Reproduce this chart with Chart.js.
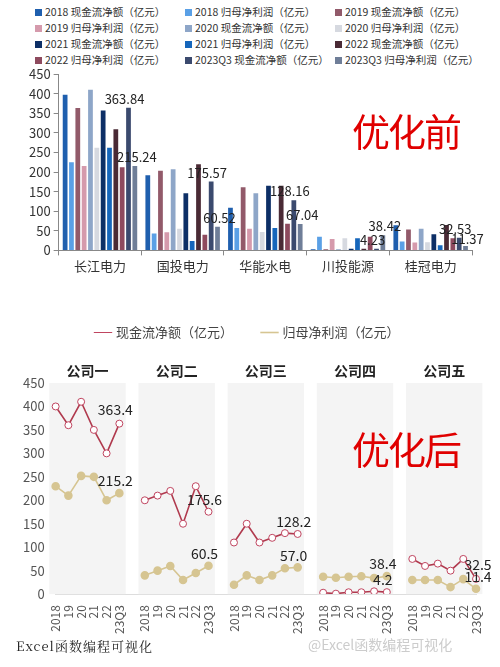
<!DOCTYPE html>
<html><head><meta charset="utf-8">
<script src="https://cdn.jsdelivr.net/npm/chart.js@4"></script>
<style>
body{margin:0;background:#fff;font-family:"Noto Sans CJK SC","Noto Sans",sans-serif;width:500px;height:667px;position:relative;overflow:hidden}
#leg{position:absolute;left:35px;top:4px;width:465px;display:grid;grid-template-columns:150px 150px 150px;row-gap:1px;font-size:10.5px;color:#333}
#leg span i{display:inline-block;width:7px;height:7px;margin-right:3px}
#c1w{position:absolute;left:0;top:62px;width:500px;height:215px}
#c2w{position:absolute;left:0;top:292px;width:500px;height:345px}
.red{position:absolute;color:#e00000;font-size:38px;letter-spacing:-2px}
#foot{position:absolute;left:16px;top:636px;font-size:13px;color:#222;font-family:"Noto Serif CJK SC","Noto Sans CJK SC";letter-spacing:1px}
#wm{position:absolute;left:308px;top:634px;font-size:14px;color:#ccc}
</style></head><body>
<div id="leg"></div>
<div id="c1w"><canvas id="c1"></canvas></div>
<div id="c2w"><canvas id="c2"></canvas></div>
<div class="red" style="left:352px;top:102px">优化前</div>
<div class="red" style="left:352px;top:420px">优化后</div>
<div id="foot">Excel函数编程可视化</div>
<div id="wm">@Excel函数编程可视化</div>
<script>
const companies=['长江电力','国投电力','华能水电','川投能源','桂冠电力'];
const seriesNames=['2018 现金流净额（亿元）','2018 归母净利润（亿元）','2019 现金流净额（亿元）','2019 归母净利润（亿元）','2020 现金流净额（亿元）','2020 归母净利润（亿元）','2021 现金流净额（亿元）','2021 归母净利润（亿元）','2022 现金流净额（亿元）','2022 归母净利润（亿元）','2023Q3 现金流净额（亿元）','2023Q3 归母净利润（亿元）'];
const colors=['#1f5fae','#5aa0e6','#925a6a','#d59aac','#8ea6c8','#d6d9e0','#0d2f66','#1666bb','#4a2a35','#8e4a5e','#3b4a6e','#6f7e98'];
const s2018cash=[397,192,109,3,64], s2018prof=[225,43,57,35,23];
const s2019cash=[363,203,161,3,53], s2019prof=[215,46,55,29,20];
const s2020cash=[410,207,146,3,55], s2020prof=[262,55,47,31,21];
const s2021cash=[357,146,165,4,41], s2021prof=[262,24,57,31,13];
const s2022cash=[309,220,165,4,65], s2022prof=[212,40,68,35,31];
const s2023cash=[363.84,175.57,128.16,4.23,32.53], s2023prof=[215.24,60.52,67.04,38.42,11.37];
const barSeries=[s2018cash,s2018prof,s2019cash,s2019prof,s2020cash,s2020prof,s2021cash,s2021prof,s2022cash,s2022prof,s2023cash,s2023prof];

const groupNames=['公司一','公司二','公司三','公司四','公司五'];
const yearLabels=['2018','19','20','21','22','23Q3'];
const cash1=[400,360,410,350,300,363.4], prof1=[230,210,252,250,200,215.2];
const cash2=[200,210,220,150,230,175.6], prof2=[40,50,60,30,45,60.5];
const cash3=[110,150,110,120,130,128.2], prof3=[20,40,30,40,55,57.0];
const cash4=[3,1,4,4,6,4.2], prof4=[37,35,37,38,34,38.4];
const cash5=[75,60,65,50,75,32.5], prof5=[30,30,30,15,32,11.4];
const cashG=[cash1,cash2,cash3,cash4,cash5], profG=[prof1,prof2,prof3,prof4,prof5];

const F='"Noto Sans CJK SC","Noto Sans",sans-serif';
document.getElementById('leg').innerHTML=seriesNames.map((n,i)=>`<span><i style="background:${colors[i]}"></i>${n}</span>`).join('');

const barLabels={id:'bl',afterDatasetsDraw(ch){const c=ch.ctx;c.save();c.font='13px '+F;c.fillStyle='#222';c.textAlign='center';
 [10,11].forEach(di=>{ch.getDatasetMeta(di).data.forEach((b,i)=>{const v=barSeries[di][i];let dx=di==10?-4:2,dy=-4;
  if(i==4&&di==11){dy=-2;}
  c.fillText(v.toFixed(2),b.x+dx,b.y+dy);});});c.restore();}};
new Chart(document.getElementById('c1'),{type:'bar',
 data:{labels:companies,datasets:barSeries.map((d,i)=>({label:seriesNames[i],data:d,backgroundColor:colors[i],categoryPercentage:0.92,barPercentage:0.75}))},
 options:{responsive:true,maintainAspectRatio:false,animation:false,layout:{padding:{left:26,right:28,top:12}},
  plugins:{legend:{display:false},tooltip:{enabled:false}},
  scales:{y:{min:0,max:450,ticks:{stepSize:50,color:'#333',font:{size:13,family:F}},grid:{drawOnChartArea:false,tickLength:5,color:'#888'},border:{color:'#888'}},
   x:{ticks:{color:'#333',font:{size:13,family:F}},grid:{offset:true,drawOnChartArea:false,tickLength:5,color:'#888'},border:{color:'#888'}}}},
 plugins:[barLabels]});

const labels2=[],cashData=[],profData=[];
groupNames.forEach((g,gi)=>{yearLabels.forEach((y,k)=>{labels2.push(y);cashData.push(cashG[gi][k]);profData.push(profG[gi][k]);});
 if(gi<4){labels2.push('');cashData.push(null);profData.push(null);}});
const bands={id:'bands',
 beforeInit(ch){const fit=ch.legend.fit;ch.legend.fit=function(){fit.bind(ch.legend)();this.height+=34;};},
 beforeDatasetsDraw(ch){const c=ch.ctx,x=ch.scales.x,a=ch.chartArea;const w=x.getPixelForValue(1)-x.getPixelForValue(0);
 c.save();groupNames.forEach((g,gi)=>{const l=x.getPixelForValue(gi*7)-w/2,r=x.getPixelForValue(gi*7+5)+w/2;
  c.fillStyle='#f4f4f4';c.fillRect(l,a.top,r-l,a.bottom-a.top);
  c.fillStyle='#222';c.font='bold 14px '+F;c.textAlign='center';c.fillText(g,(l+r)/2,a.top-12);});c.restore();},
 afterDatasetsDraw(ch){const c=ch.ctx,x=ch.scales.x,y=ch.scales.y;c.save();c.font='14px '+F;c.fillStyle='#222';c.textAlign='center';
  groupNames.forEach((g,gi)=>{const px=x.getPixelForValue(gi*7+5);
   const cv=cashG[gi][5],pv=profG[gi][5];
   const cy=y.getPixelForValue(cv),py=y.getPixelForValue(pv);
   const dx=gi==4?2:-4;
   c.fillText(cv.toFixed(1),px+dx,cy-(gi==0||gi==4?14:12));c.fillText(pv.toFixed(1),px+dx,py-12);
  });c.restore();}};
new Chart(document.getElementById('c2'),{type:'line',
 data:{labels:labels2,datasets:[
  {label:'现金流净额（亿元）',data:cashData,borderColor:'#b03a4e',backgroundColor:'#fff',pointBorderColor:'#c04560',pointBackgroundColor:'#fff',pointRadius:3.5,pointBorderWidth:1,borderWidth:1.6,spanGaps:false},
  {label:'归母净利润（亿元）',data:profData,borderColor:'#d6c592',backgroundColor:'#d6c592',pointBackgroundColor:'#d6c592',pointBorderColor:'#d6c592',pointRadius:3.5,borderWidth:1.6,spanGaps:false}]},
 options:{responsive:true,maintainAspectRatio:false,animation:false,layout:{padding:{right:24,left:20,top:4}},
  plugins:{tooltip:{enabled:false},legend:{labels:{usePointStyle:true,pointStyle:'line',font:{size:13,family:F},color:'#444',padding:30,boxWidth:30}}},
  scales:{y:{min:0,max:450,ticks:{stepSize:50,color:'#555',font:{size:13,family:F}},grid:{display:false},border:{display:false}},
   x:{ticks:{color:'#555',font:{size:12,family:F},maxRotation:90,minRotation:90,autoSkip:false},grid:{display:false},border:{color:'#ddd'}}}},
 plugins:[bands]});
</script></body></html>
